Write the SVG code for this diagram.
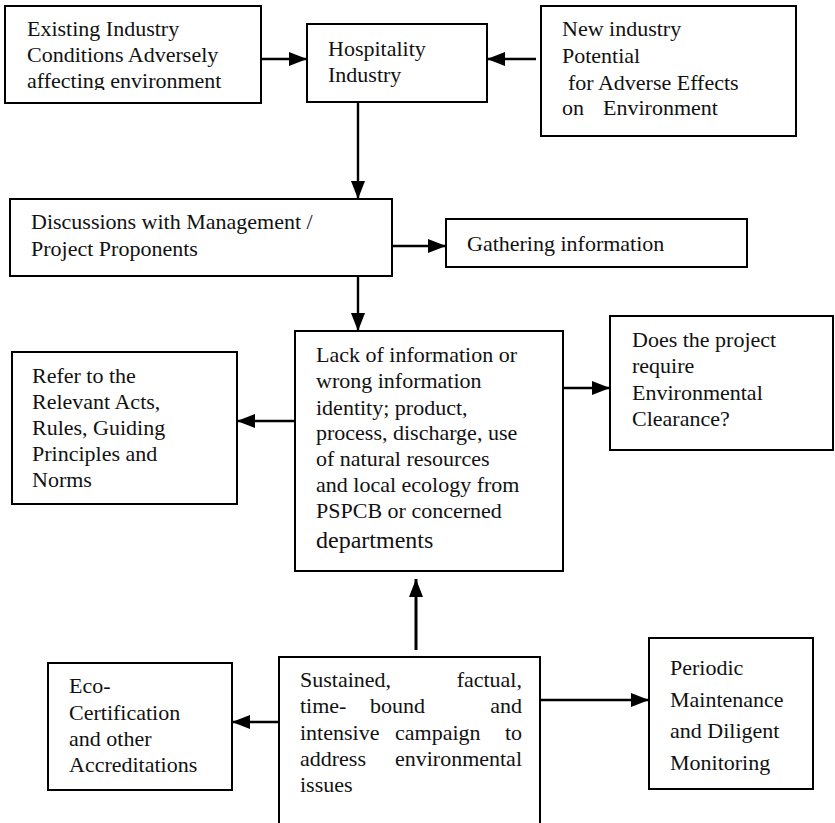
<svg xmlns="http://www.w3.org/2000/svg" width="835" height="823" viewBox="0 0 835 823">
<style>
.box{fill:#fff;stroke:#000;stroke-width:2}
.t{font-family:'Liberation Serif','DejaVu Serif','Times New Roman',serif;font-size:22px;fill:#111}
.c{stroke:#000;stroke-width:2.4;fill:none}
</style>
<defs>
<marker id="ah" markerUnits="userSpaceOnUse" markerWidth="18" markerHeight="14" refX="18" refY="7" orient="auto">
<path d="M0,0 L18,7 L0,14 z" fill="#000"/>
</marker>
<clipPath id="clip1"><rect x="5" y="6" width="256" height="84"/></clipPath>
</defs>
<rect width="835" height="823" fill="#fff"/>

<g id="connectors">
<line class="c" x1="261" y1="59" x2="307" y2="59" marker-end="url(#ah)"/>
<line class="c" x1="536" y1="59" x2="487" y2="59" marker-end="url(#ah)"/>
<line class="c" x1="358" y1="102" x2="358" y2="199" marker-end="url(#ah)"/>
<line class="c" x1="392" y1="246" x2="446" y2="246" marker-end="url(#ah)"/>
<line class="c" x1="358" y1="276" x2="358" y2="331" marker-end="url(#ah)"/>
<line class="c" x1="295" y1="421" x2="237" y2="421" marker-end="url(#ah)"/>
<line class="c" x1="564" y1="388" x2="610" y2="388" marker-end="url(#ah)"/>
<line class="c" x1="416" y1="650" x2="416" y2="579" marker-end="url(#ah)" style="stroke-width:3"/>
<line class="c" x1="279" y1="722" x2="232" y2="722" marker-end="url(#ah)"/>
<line class="c" x1="541" y1="700" x2="649" y2="700" marker-end="url(#ah)"/>
</g>

<g id="existing">
<rect class="box" x="5" y="6" width="256" height="97"/>
<g clip-path="url(#clip1)">
<text class="t" x="27" y="36">Existing Industry</text>
<text class="t" x="27" y="62">Conditions Adversely</text>
<text class="t" x="27" y="88">affecting environment</text>
</g>
</g>

<g id="hospitality">
<rect class="box" x="307" y="24" width="180" height="78"/>
<text class="t" x="328" y="56">Hospitality</text>
<text class="t" x="328" y="82">Industry</text>
</g>

<g id="newindustry">
<rect class="box" x="541" y="6" width="255" height="130"/>
<text class="t" x="562" y="36">New industry</text>
<text class="t" x="562" y="63">Potential</text>
<text class="t" x="568" y="90">for Adverse Effects</text>
<text class="t" x="562" y="115">on</text>
<text class="t" x="603" y="115">Environment</text>
</g>

<g id="discussions">
<rect class="box" x="10" y="199" width="382" height="77"/>
<text class="t" x="31" y="229">Discussions with Management /</text>
<text class="t" x="31" y="256">Project Proponents</text>
</g>

<g id="gathering">
<rect class="box" x="446" y="219" width="301" height="48"/>
<text class="t" x="467" y="251">Gathering information</text>
</g>

<g id="lack">
<rect class="box" x="295" y="331" width="268" height="240"/>
<text class="t" x="316" y="362">Lack of information or</text>
<text class="t" x="316" y="388">wrong information</text>
<text class="t" x="316" y="415">identity; product,</text>
<text class="t" x="316" y="440">process, discharge, use</text>
<text class="t" x="316" y="466">of natural resources</text>
<text class="t" x="316" y="492">and local ecology from</text>
<text class="t" x="316" y="518">PSPCB or concerned</text>
<text class="t" x="316" y="548" style="font-size:24px">departments</text>
</g>

<g id="refer">
<rect class="box" x="12" y="352" width="225" height="152"/>
<text class="t" x="32" y="383">Refer to the</text>
<text class="t" x="32" y="409">Relevant Acts,</text>
<text class="t" x="32" y="435">Rules, Guiding</text>
<text class="t" x="32" y="461">Principles and</text>
<text class="t" x="32" y="487">Norms</text>
</g>

<g id="clearance">
<rect class="box" x="610" y="316" width="223" height="134"/>
<text class="t" x="632" y="347">Does the project</text>
<text class="t" x="632" y="373">require</text>
<text class="t" x="632" y="400">Environmental</text>
<text class="t" x="632" y="426">Clearance?</text>
</g>

<g id="sustained">
<path class="box" d="M279,823 L279,657 L540,657 L540,823" style="fill:#fff"/>
<text class="t" x="300" y="687">Sustained,</text>
<text class="t" x="522" y="687" text-anchor="end">factual,</text>
<text class="t" x="300" y="713">time-</text>
<text class="t" x="370" y="713">bound</text>
<text class="t" x="522" y="713" text-anchor="end">and</text>
<text class="t" x="300" y="740">intensive</text>
<text class="t" x="395" y="740">campaign</text>
<text class="t" x="522" y="740" text-anchor="end">to</text>
<text class="t" x="300" y="766">address</text>
<text class="t" x="522" y="766" text-anchor="end">environmental</text>
<text class="t" x="300" y="792">issues</text>
</g>

<g id="eco">
<rect class="box" x="48" y="663" width="184" height="127"/>
<text class="t" x="69" y="693">Eco-</text>
<text class="t" x="69" y="720">Certification</text>
<text class="t" x="69" y="746">and other</text>
<text class="t" x="69" y="772">Accreditations</text>
</g>

<g id="periodic">
<rect class="box" x="649" y="638" width="164" height="151"/>
<text class="t" x="670" y="675">Periodic</text>
<text class="t" x="670" y="707">Maintenance</text>
<text class="t" x="670" y="738">and Diligent</text>
<text class="t" x="670" y="770">Monitoring</text>
</g>
</svg>
